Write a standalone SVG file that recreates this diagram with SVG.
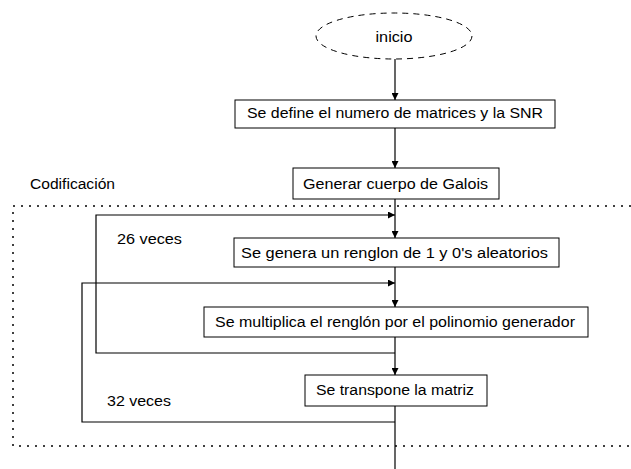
<svg xmlns="http://www.w3.org/2000/svg" width="631" height="469" viewBox="0 0 631 469">
  <defs>
    <marker id="arrow" viewBox="0 0 10 10" refX="10" refY="5" markerWidth="7" markerHeight="7" markerUnits="userSpaceOnUse" orient="auto">
      <path d="M0,0 L10,5 L0,10 z" fill="#000"/>
    </marker>
    <style>
      .box { fill: #fff; stroke: #000; stroke-width: 1; }
      .lbl { font-family: "Liberation Sans", Arial, sans-serif; font-size: 15.5px; fill: #000; }
      .mid { text-anchor: middle; }
      .edge { fill: none; stroke: #000; stroke-width: 1.2; }
      .arr { marker-end: url(#arrow); }
      .frame { fill: none; stroke: #000; stroke-width: 1.5; stroke-dasharray: 2 6; }
    </style>
  </defs>

  <rect width="631" height="469" fill="#fff"/>

  <!-- coding section frame -->
  <g id="codificacion">
    <path class="frame" d="M631,206 H13 V446 H631"/>
    <text class="lbl" x="30" y="189" textLength="85" lengthAdjust="spacingAndGlyphs">Codificación</text>
  </g>

  <!-- connectors -->
  <g id="connectors">
    <line class="edge arr" x1="395" y1="59" x2="395" y2="100"/>
    <line class="edge arr" x1="395" y1="128" x2="395" y2="168"/>
    <line class="edge arr" x1="395" y1="199" x2="395" y2="238"/>
    <line class="edge arr" x1="395" y1="267" x2="395" y2="307"/>
    <line class="edge arr" x1="395" y1="337" x2="395" y2="375"/>
    <line class="edge" x1="395" y1="406" x2="395" y2="469"/>
    <!-- inner loop: 26 times -->
    <path class="edge arr" d="M395,353 H96 V215 H395"/>
    <!-- outer loop: 32 times -->
    <path class="edge arr" d="M395,422 H82 V283 H395"/>
  </g>

  <g id="loop-labels">
    <text class="lbl" x="117" y="244" textLength="65" lengthAdjust="spacingAndGlyphs">26 veces</text>
    <text class="lbl" x="107" y="406" textLength="64" lengthAdjust="spacingAndGlyphs">32 veces</text>
  </g>

  <g id="inicio">
    <ellipse cx="394" cy="36" rx="78" ry="23" fill="#fff" stroke="#000" stroke-width="1" stroke-dasharray="6 5"/>
    <text class="lbl mid" x="394" y="42" textLength="37" lengthAdjust="spacingAndGlyphs">inicio</text>
  </g>

  <g id="definir">
    <rect class="box" x="235" y="100" width="320" height="28"/>
    <text class="lbl mid" x="395" y="118" textLength="296" lengthAdjust="spacingAndGlyphs">Se define el numero de matrices y la SNR</text>
  </g>

  <g id="galois">
    <rect class="box" x="293" y="168" width="206" height="31"/>
    <text class="lbl mid" x="395.5" y="189" textLength="185" lengthAdjust="spacingAndGlyphs">Generar cuerpo de Galois</text>
  </g>

  <g id="renglon">
    <rect class="box" x="234" y="238" width="325" height="29"/>
    <text class="lbl mid" x="394.5" y="258" textLength="307" lengthAdjust="spacingAndGlyphs">Se genera un renglon de 1 y 0's aleatorios</text>
  </g>

  <g id="multiplica">
    <rect class="box" x="204" y="307" width="384" height="30"/>
    <text class="lbl mid" x="395" y="327" textLength="360" lengthAdjust="spacingAndGlyphs">Se multiplica el renglón por el polinomio generador</text>
  </g>

  <g id="transpone">
    <rect class="box" x="305" y="375" width="182" height="31"/>
    <text class="lbl mid" x="395" y="395" textLength="158" lengthAdjust="spacingAndGlyphs">Se transpone la matriz</text>
  </g>
</svg>
